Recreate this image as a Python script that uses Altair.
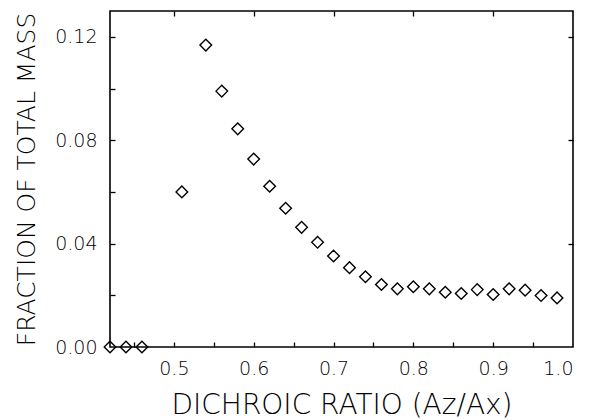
import altair as alt
import pandas as pd

ratio = [0.42, 0.44, 0.46, 0.51, 0.54, 0.56, 0.58, 0.60, 0.62, 0.64, 0.66, 0.68, 0.70,
         0.72, 0.74, 0.76, 0.78, 0.80, 0.82, 0.84, 0.86, 0.88, 0.90, 0.92, 0.94, 0.96, 0.98]
fraction = [0.0, 0.0, 0.0, 0.060, 0.1168, 0.099, 0.0844, 0.0727, 0.0622, 0.0537, 0.0463,
            0.0405, 0.0352, 0.0307, 0.0272, 0.0242, 0.0225, 0.0233, 0.0225, 0.0212, 0.0207,
            0.0222, 0.0203, 0.0225, 0.0220, 0.0199, 0.0190]

x_major = [0.5, 0.6, 0.7, 0.8, 0.9, 1.0]
x_minor = [0.45, 0.5, 0.55, 0.6, 0.65, 0.7, 0.75, 0.8, 0.85, 0.9, 0.95]
y_major = [0.0, 0.04, 0.08, 0.12]
y_minor = [0.02, 0.04, 0.06, 0.08, 0.10, 0.12]

df = pd.DataFrame({"x": ratio, "y": fraction})

FONT = "DejaVu Sans"
WEIGHT = 200
xscale = alt.Scale(domain=[0.42, 1.0], nice=False, zero=False)
yscale = alt.Scale(domain=[0.0, 0.13], nice=False, zero=False)

base = alt.Chart(df)

points = base.mark_point(shape="diamond", size=135, filled=False, color="black",
                         strokeWidth=1.4, opacity=1).encode(
    x=alt.X("x:Q", scale=xscale,
            axis=alt.Axis(orient="bottom", values=x_major, format=".1f", ticks=False,
                          tickSize=0, domain=False, grid=False, labelFont=FONT,
                          labelFontSize=19, labelFontWeight=WEIGHT, labelColor="black",
                          labelPadding=12,
                          title="DICHROIC RATIO (Az/Ax)", titleFont=FONT,
                          titleFontSize=28, titleFontWeight=WEIGHT, titleColor="black",
                          titlePadding=13)),
    y=alt.Y("y:Q", scale=yscale,
            axis=alt.Axis(orient="left", values=y_major, format=".2f", ticks=False,
                          tickSize=0, domain=False, grid=False, labelFont=FONT,
                          labelFontSize=19, labelFontWeight=WEIGHT, labelColor="black",
                          labelPadding=13,
                          title="FRACTION OF TOTAL MASS", titleFont=FONT,
                          titleFontSize=25, titleFontWeight=WEIGHT, titleColor="black",
                          titlePadding=15)),
)

ticks_bl = base.mark_point(opacity=0).encode(
    x=alt.X("x:Q", scale=xscale,
            axis=alt.Axis(orient="bottom", offset=-5, values=x_minor, labels=False,
                          tickSize=5, tickWidth=1.3, tickColor="black", domain=False,
                          grid=False, title="")),
    y=alt.Y("y:Q", scale=yscale,
            axis=alt.Axis(orient="left", offset=-5, values=y_minor, labels=False,
                          tickSize=5, tickWidth=1.3, tickColor="black", domain=False,
                          grid=False, title="")),
)

ticks_tr = base.mark_point(opacity=0).encode(
    x=alt.X("x:Q", scale=xscale,
            axis=alt.Axis(orient="top", offset=-5, values=x_major[:-1], labels=False,
                          tickSize=5, tickWidth=1.3, tickColor="black", domain=False,
                          grid=False, title="")),
    y=alt.Y("y:Q", scale=yscale,
            axis=alt.Axis(orient="right", offset=-5, values=y_major[1:], labels=False,
                          tickSize=5, tickWidth=1.3, tickColor="black", domain=False,
                          grid=False, title="")),
)

chart = alt.layer(points, ticks_bl, ticks_tr).resolve_axis(
    x="independent", y="independent"
).properties(
    width=463, height=336, autosize="none",
    padding={"left": 110, "top": 11, "right": 18, "bottom": 73},
    background="white",
).configure_view(stroke="black", strokeWidth=1.6)

chart.save("out.html", embed_options={"renderer": "svg", "actions": False})
